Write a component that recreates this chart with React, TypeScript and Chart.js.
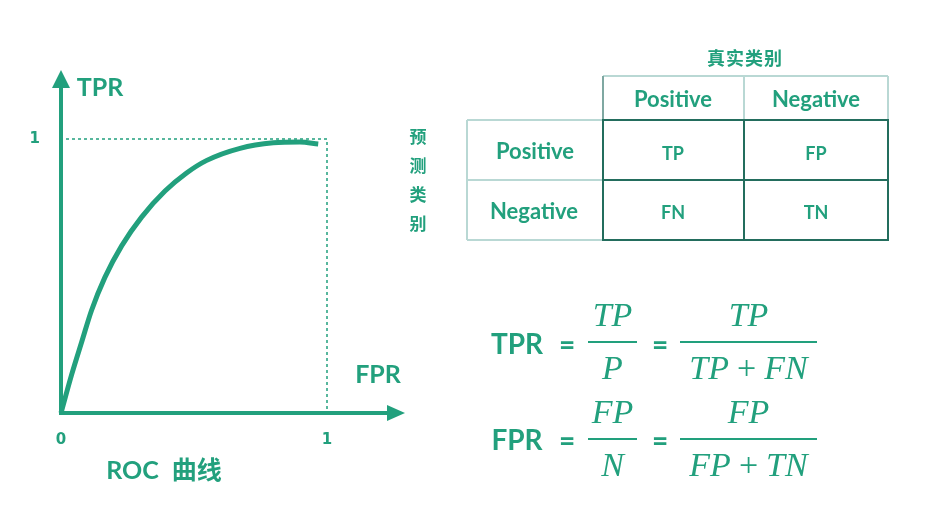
import React, { useEffect, useRef } from "react";
import { Chart, registerables } from "chart.js";

Chart.register(...registerables);

// ---- data ----
const rocFpr = [0, 0.04, 0.078, 0.115, 0.165, 0.228, 0.303, 0.391, 0.472, 0.548, 0.673, 0.798, 0.898, 0.967];
const rocTpr = [0, 0.14, 0.26, 0.375, 0.495, 0.61, 0.715, 0.81, 0.876, 0.922, 0.966, 0.986, 0.989, 0.982];
const axisTicks = [0, 1];
const actualHeaders = ["Positive", "Negative"];
const predictedHeaders = ["Positive", "Negative"];
const cellLabels = [
  ["TP", "FP"],
  ["FN", "TN"],
];
const actualTitle = "真实类别";
const predictedTitle = "预测类别";

// ---- style ----
const TEAL = "#22a07d";
const DARK = "#236d5d";
const LIGHT = "#b9d8d4";
const SANS = 'Lato, "Noto Sans CJK SC", sans-serif';
const CJK = '"Noto Sans CJK SC", sans-serif';
const MATH = '"Liberation Serif", "DejaVu Serif", serif';

const axesPlugin = {
  id: "rocAxes",
  beforeDatasetsDraw(chart: any) {
    const { ctx } = chart;
    const xs = chart.scales.x;
    const ys = chart.scales.y;
    const x0 = xs.getPixelForValue(0);
    const x1 = xs.getPixelForValue(1);
    const y0 = ys.getPixelForValue(0);
    const y1 = ys.getPixelForValue(1);
    ctx.save();
    ctx.strokeStyle = TEAL;
    ctx.fillStyle = TEAL;
    ctx.setLineDash([3, 3]);
    ctx.lineWidth = 1.5;
    ctx.beginPath();
    ctx.moveTo(x0 + 5, y1);
    ctx.lineTo(x1, y1);
    ctx.lineTo(x1, y0);
    ctx.stroke();
    ctx.setLineDash([]);
    ctx.lineWidth = 4;
    const yTip = y1 - 69;
    const xTip = x1 + 78;
    ctx.beginPath();
    ctx.moveTo(x0, y0 + 2);
    ctx.lineTo(x0, yTip + 14);
    ctx.stroke();
    ctx.beginPath();
    ctx.moveTo(x0 - 2, y0);
    ctx.lineTo(xTip - 14, y0);
    ctx.stroke();
    ctx.beginPath();
    ctx.moveTo(x0, yTip);
    ctx.lineTo(x0 - 9, yTip + 18);
    ctx.lineTo(x0 + 9, yTip + 18);
    ctx.closePath();
    ctx.fill();
    ctx.beginPath();
    ctx.moveTo(xTip, y0);
    ctx.lineTo(xTip - 18, y0 - 8);
    ctx.lineTo(xTip - 18, y0 + 8);
    ctx.closePath();
    ctx.fill();
    ctx.restore();
  },
};

const Txt = ({ x, y, size, font = SANS, weight = 700, italic = false, children }: any) => (
  <div
    style={{
      position: "absolute",
      left: x,
      top: y,
      transform: "translate(-50%, -50%)",
      fontSize: size,
      lineHeight: 1,
      fontFamily: font,
      fontWeight: weight,
      fontStyle: italic ? "italic" : "normal",
      color: TEAL,
      whiteSpace: "nowrap",
    }}
  >
    {children}
  </div>
);

const HL = ({ x1, x2, y, w = 1.5, c = LIGHT }: any) => (
  <div style={{ position: "absolute", left: x1, top: y - w / 2, width: x2 - x1, height: w, background: c }} />
);
const VL = ({ x, y1, y2, w = 1.5, c = LIGHT }: any) => (
  <div style={{ position: "absolute", left: x - w / 2, top: y1, width: w, height: y2 - y1, background: c }} />
);

const Plus = () => <span style={{ fontStyle: "normal", margin: "0 8px" }}>+</span>;

const Frac = ({ l, r, y, num, den }: any) => {
  const cx = (l + r) / 2;
  return (
    <>
      <Txt x={cx} y={y - 27} size={34} font={MATH} weight={400} italic>
        {num}
      </Txt>
      <HL x1={l} x2={r} y={y} w={2} c={TEAL} />
      <Txt x={cx} y={y + 26} size={34} font={MATH} weight={400} italic>
        {den}
      </Txt>
    </>
  );
};

export default function App() {
  const canvasRef = useRef<HTMLCanvasElement>(null);

  useEffect(() => {
    const chart = new Chart(canvasRef.current as HTMLCanvasElement, {
      type: "line",
      data: {
        datasets: [
          {
            data: rocFpr.map((x, i) => ({ x, y: rocTpr[i] })),
            borderColor: TEAL,
            borderWidth: 5,
            pointRadius: 0,
            cubicInterpolationMode: "monotone",
            fill: false,
            clip: false,
          } as any,
        ],
      },
      options: {
        responsive: false,
        animation: false,
        layout: { padding: { left: 21, top: 139, right: 600, bottom: 65 } },
        plugins: { legend: { display: false }, tooltip: { enabled: false } },
        scales: {
          x: {
            type: "linear",
            min: 0,
            max: 1,
            afterBuildTicks: (s: any) => {
              s.ticks = axisTicks.map((v) => ({ value: v }));
            },
            afterFit: (s: any) => {
              s.height = 40;
            },
            grid: { display: false, drawTicks: false },
            border: { display: false },
            ticks: { color: TEAL, padding: 18, font: { family: '"DejaVu Sans"', size: 15, weight: "bold" } },
          },
          y: {
            type: "linear",
            min: 0,
            max: 1,
            afterBuildTicks: (s: any) => {
              s.ticks = axisTicks.map((v) => ({ value: v }));
            },
            afterFit: (s: any) => {
              s.width = 40;
            },
            grid: { display: false, drawTicks: false },
            border: { display: false },
            ticks: {
              color: TEAL,
              padding: 21,
              font: { family: '"DejaVu Sans"', size: 15, weight: "bold" },
              callback: (v: any) => (v === 0 ? "" : String(v)),
            },
          },
        },
      } as any,
      plugins: [axesPlugin],
    });
    return () => chart.destroy();
  }, []);

  return (
    <div style={{ position: "fixed", left: 0, top: 0, width: 927, height: 518, background: "#fff", overflow: "hidden" }}>
      <canvas ref={canvasRef} width={927} height={518} style={{ position: "absolute", left: 0, top: 0 }} />

      {/* ROC labels */}
      <Txt x={100} y={86} size={25}>TPR</Txt>
      <Txt x={378} y={373} size={25}>FPR</Txt>
      <Txt x={164} y={469} size={25}>
        ROC<span style={{ fontFamily: CJK, marginLeft: 13 }}>曲线</span>
      </Txt>

      {/* confusion matrix */}
      <Txt x={745} y={57} size={18} font={CJK}>
        <span style={{ letterSpacing: 1 }}>{actualTitle}</span>
      </Txt>
      <div
        style={{
          position: "absolute",
          left: 418,
          top: 121,
          transform: "translateX(-50%)",
          width: 20,
          textAlign: "center",
          fontFamily: CJK,
          fontWeight: 700,
          fontSize: 17,
          lineHeight: "29px",
          color: TEAL,
        }}
      >
        {predictedTitle.split("").map((ch, i) => (
          <div key={i}>{ch}</div>
        ))}
      </div>

      {/* light borders */}
      <HL x1={603} x2={888} y={76} />
      <VL x={603} y1={76} y2={120} c="#7fa8a2" />
      <VL x={744} y1={76} y2={120} />
      <VL x={888} y1={76} y2={120} />
      <HL x1={467} x2={603} y={120} />
      <VL x={467} y1={120} y2={240} />
      <HL x1={467} x2={603} y={180} />
      <HL x1={467} x2={603} y={240} />
      {/* dark block */}
      <HL x1={602} x2={889} y={120} w={2} c={DARK} />
      <HL x1={602} x2={889} y={180} w={2} c={DARK} />
      <HL x1={602} x2={889} y={240} w={2} c={DARK} />
      <VL x={603} y1={119} y2={241} w={2} c={DARK} />
      <VL x={744} y1={119} y2={241} w={2} c={DARK} />
      <VL x={888} y1={119} y2={241} w={2} c={DARK} />

      <Txt x={673} y={99} size={22}>{actualHeaders[0]}</Txt>
      <Txt x={816} y={99} size={22}>{actualHeaders[1]}</Txt>
      <Txt x={535} y={151} size={22}>{predictedHeaders[0]}</Txt>
      <Txt x={534} y={211} size={22}>{predictedHeaders[1]}</Txt>
      <Txt x={673} y={153} size={18}>{cellLabels[0][0]}</Txt>
      <Txt x={816} y={153} size={18}>{cellLabels[0][1]}</Txt>
      <Txt x={673} y={212} size={18}>{cellLabels[1][0]}</Txt>
      <Txt x={816} y={212} size={18}>{cellLabels[1][1]}</Txt>

      {/* formulas */}
      <Txt x={517} y={343} size={28}>TPR</Txt>
      <Txt x={567} y={344} size={28}>=</Txt>
      <Frac l={588} r={637} y={342} num="TP" den="P" />
      <Txt x={660} y={344} size={28}>=</Txt>
      <Frac l={680} r={817} y={342} num="TP" den={<>TP<Plus />FN</>} />

      <Txt x={517} y={439} size={28}>FPR</Txt>
      <Txt x={567} y={440} size={28}>=</Txt>
      <Frac l={588} r={637} y={439} num="FP" den="N" />
      <Txt x={660} y={440} size={28}>=</Txt>
      <Frac l={680} r={817} y={439} num="FP" den={<>FP<Plus />TN</>} />
    </div>
  );
}
